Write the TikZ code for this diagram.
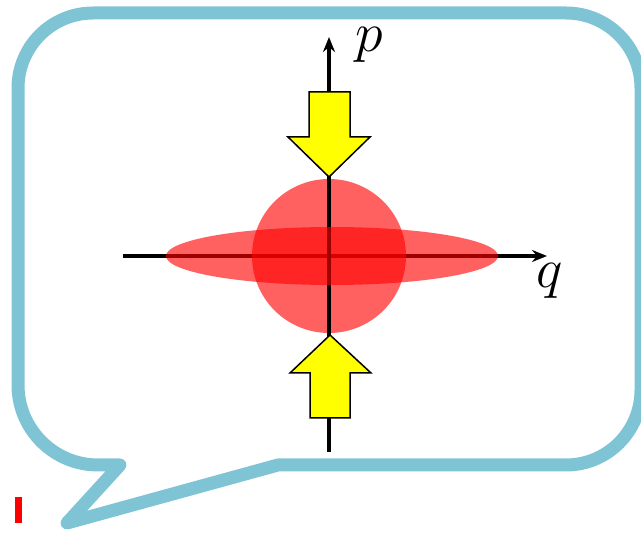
\documentclass[tikz,border=0pt]{standalone}
\usepackage{xcolor}
\usetikzlibrary{arrows.meta}
\definecolor{bubbleblue}{HTML}{7FC4D4}
\definecolor{pushyellow}{HTML}{FFFF00}
\tikzset{
  bubble/.style={draw=bubbleblue, line width=13pt, line join=round},
  axis/.style={line width=4pt, -{Stealth[length=15pt, width=12pt]}},
  blob/.style={fill=red, fill opacity=0.62},
  push/.style={draw=black, line width=1.5pt, fill=pushyellow, line join=miter},
  axlbl/.style={font=\Huge, inner sep=0pt, scale=2.25, transform shape}
}
\begin{document}
\begin{tikzpicture}[x=1pt, y=-1pt]
  \useasboundingbox (0,0) rectangle (641,534);
  % speech bubble
  \draw[bubble] (120,465) -- (67,523) -- (278,465) -- (566,465)
    arc[start angle=90, end angle=0, radius=75] -- (641,88)
    arc[start angle=0, end angle=-90, radius=75] -- (93,13)
    arc[start angle=-90, end angle=-180, radius=75] -- (18,385)
    arc[start angle=180, end angle=90, radius=80] -- cycle;
  \fill[red] (15,497) rectangle (22,523);
  % axes and the two blobs
  \coordinate (origin) at (329,256);
  \coordinate (qend) at (547,256);
  \coordinate (pend) at (329,37);
  \draw[axis] (123,256) -- (qend);
  \fill[blob] (origin) circle[radius=77];
  \draw[axis] (329,452) -- (pend);
  \fill[blob] (332,256) ellipse[x radius=166, y radius=29];
  \node[axlbl] (plbl) at (369,45) {$p$};
  \node[axlbl] (qlbl) at (550,281) {$q$};
  % squeezing arrows
  \draw[push] (309,92) -- (350,92) -- (350,137) -- (370,137) -- (329,177)
    -- (288,137) -- (309,137) -- cycle;
  \draw[push] (310,418) -- (350,418) -- (350,373) -- (371,373) -- (330,335)
    -- (290,373) -- (310,373) -- cycle;
\end{tikzpicture}
\end{document}
